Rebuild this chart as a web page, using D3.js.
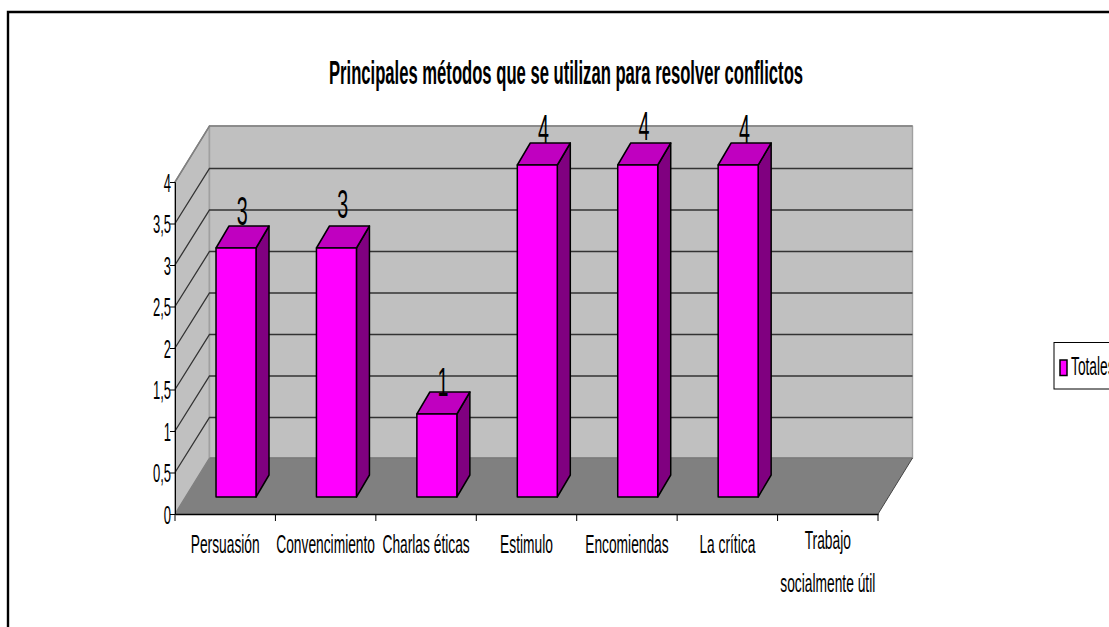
<!DOCTYPE html>
<html><head><meta charset="utf-8">
<script src="https://cdn.jsdelivr.net/npm/d3@7"></script>
<style>html,body{margin:0;padding:0;background:#fff;overflow:hidden}svg{display:block}text{font-family:"Liberation Sans",Arial,sans-serif;fill:#000}</style>
</head><body><svg id="c" width="1109" height="627"></svg>
<script>
const categories=["Persuasión","Convencimiento","Charlas éticas","Estimulo","Encomiendas","La crítica","Trabajo|socialmente útil"];
const values=[3,3,1,4,4,4,null];
const yTicks=[0,0.5,1,1.5,2,2.5,3,3.5,4];
const titleText="Principales métodos que se utilizan para resolver conflictos";
const legendLabel="Totales";

const svg=d3.select("#c");
const x=d3.scaleBand().domain(categories).range([175,878]);
const y=d3.scaleLinear().domain([0,4]).range([514,182]);
const depth={dx:34.5,dy:-56}, barD={dx:13,dy:-22};
const barW=40, barOff={dx:10.8,dy:-17};
const labelLift=[40,47,35,39,42,39];
const stext=(g,t,px,py,fs,sq,anchor,weight)=>g.append("text")
  .attr("transform",`translate(${px},${py}) scale(${sq},1)`)
  .attr("text-anchor",anchor||"middle").attr("font-size",fs).attr("font-weight",weight||"normal").text(t);
const poly=(pts,fill,stroke,sw)=>svg.append("polygon").attr("points",pts.map(p=>p.join(",")).join(" "))
  .attr("fill",fill).attr("stroke",stroke||"none").attr("stroke-width",sw||0).attr("stroke-linejoin","round");

// frame
svg.append("path").attr("d","M8,627V12H1109").attr("fill","none").attr("stroke","#000").attr("stroke-width",2.4);

const [x0,x1]=x.range(), yb=y(0), yt=y(4);
// walls and floor
poly([[x0,yb],[x0,yt],[x0+depth.dx,yt+depth.dy],[x0+depth.dx,yb+depth.dy]],"#c0c0c0","#808080",1.4);
poly([[x0+depth.dx,yt+depth.dy],[x1+depth.dx,yt+depth.dy],[x1+depth.dx,yb+depth.dy],[x0+depth.dx,yb+depth.dy]],"#c0c0c0","#a0a0a0",1.4);
poly([[x0,yb],[x1,yb],[x1+depth.dx,yb+depth.dy],[x0+depth.dx,yb+depth.dy]],"#808080");
svg.append("line").attr("x1",x0+depth.dx).attr("x2",x1+depth.dx).attr("y1",yb+depth.dy).attr("y2",yb+depth.dy).attr("stroke","#7a7a7a").attr("stroke-width",1.5);
svg.append("line").attr("x1",x1).attr("y1",yb).attr("x2",x1+depth.dx).attr("y2",yb+depth.dy).attr("stroke","#444").attr("stroke-width",1);
// gridlines
svg.append("g").selectAll("path").data(yTicks.slice(1,-1)).join("path")
  .attr("d",v=>`M${x0},${y(v)}L${x0+depth.dx},${y(v)+depth.dy+1}H${x1+depth.dx}`)
  .attr("fill","none").attr("stroke","#333").attr("stroke-width",1.3);
svg.append("path").attr("d",`M${x0},${yt}L${x0+depth.dx},${yt+depth.dy}H${x1+depth.dx}`)
  .attr("fill","none").attr("stroke","#808080").attr("stroke-width",1.5);

// bars
const data=categories.map((c,i)=>({c,v:values[i],i})).filter(d=>d.v!==null);
data.forEach(d=>{
  const l=x(d.c)+x.bandwidth()/2-barW/2+barOff.dx, r=l+barW, b=yb+barOff.dy, t=y(d.v)+barOff.dy;
  const st="#000";
  poly([[r,b],[r,t],[r+barD.dx,t+barD.dy],[r+barD.dx,b+barD.dy]],"#800080",st,1.5);
  poly([[l,t],[l+barD.dx,t+barD.dy],[r+barD.dx,t+barD.dy],[r,t]],"#c000c0",st,1.5);
  poly([[l,b],[l,t],[r,t],[r,b]],"#ff00ff",st,1.5);
});
// axes
const yAxis=svg.append("g").attr("transform",`translate(${x0},0)`)
  .call(d3.axisLeft(y).tickValues(yTicks).tickSize(5).tickPadding(2).tickFormat(d=>String(d).replace(".",",")));
yAxis.select(".domain").attr("stroke","#000").attr("stroke-width",1);
yAxis.selectAll("line").attr("stroke","#000");
yAxis.attr("font-family",null).attr("font-size",null);
yAxis.selectAll("text").each(function(){
  d3.select(this).attr("x",null).attr("dy",null).attr("text-anchor","end").attr("font-size",25)
   .attr("transform",`translate(-4,9) scale(0.52,1)`);
});
const xAxis=svg.append("g").attr("transform",`translate(0,${yb})`)
  .call(d3.axisBottom(x).tickSize(0).tickFormat(""));
xAxis.select(".domain").attr("stroke","#000").attr("stroke-width",1.4);
xAxis.selectAll(".tick line").remove();
svg.append("g").selectAll("line").data(d3.range(categories.length+1)).join("line")
  .attr("x1",i=>x0+i*x.step()).attr("x2",i=>x0+i*x.step()).attr("y1",yb).attr("y2",yb+7).attr("stroke","#000");
// category labels
const lab=svg.append("g");
categories.forEach(c=>{
  const cx=x(c)+x.bandwidth()/2, parts=c.split("|");
  parts.forEach((p,j)=>stext(lab,p,cx,parts.length>1?549+j*43:553,26,0.53));
});
// value labels
const vl=svg.append("g");
data.forEach((d,k)=>stext(vl,d.v,x(d.c)+x.bandwidth()/2+17,y(d.v)-labelLift[k],41,0.48));
// title
stext(svg,titleText,566,83.5,33,0.504,"middle","bold");
// legend
svg.append("rect").attr("x",1054).attr("y",342.5).attr("width",70).attr("height",46.5).attr("fill","#fff").attr("stroke","#000").attr("stroke-width",1);
svg.append("rect").attr("x",1060).attr("y",360).attr("width",7).attr("height",15.5).attr("fill","#ff00ff").attr("stroke","#000").attr("stroke-width",1.5);
stext(svg,legendLabel,1071,375,26,0.53,"start");
</script></body></html>
